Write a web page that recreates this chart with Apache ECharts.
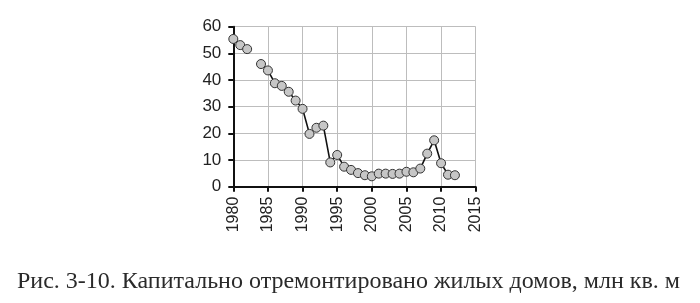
<!DOCTYPE html>
<html><head><meta charset="utf-8">
<script src="https://cdn.jsdelivr.net/npm/echarts@6/dist/echarts.min.js"></script>
<style>html,body{margin:0;padding:0;background:#fff;}#c{width:700px;height:303px;}</style>
</head><body><div id="c"></div>
<script>
const years = [1980,1981,1982,1983,1984,1985,1986,1987,1988,1989,1990,1991,1992,1993,1994,1995,1996,1997,1998,1999,2000,2001,2002,2003,2004,2005,2006,2007,2008,2009,2010,2011,2012];
const values = [55.4,53.1,51.6,null,46.0,43.6,38.8,37.8,35.6,32.3,29.2,19.8,22.1,22.9,9.1,11.9,7.5,6.3,5.1,4.3,3.9,4.9,4.9,4.8,4.9,5.6,5.4,6.8,12.4,17.4,8.8,4.5,4.3];
const xTicks = {min:1980, max:2015, step:5};
const yTicks = {min:0, max:60, step:10};
const caption = 'Рис. 3-10. Капитально отремонтировано жилых домов, млн кв. м';

const chart = echarts.init(document.getElementById('c'), null, {renderer:'canvas'});
chart.setOption({
  animation:false,
  backgroundColor:'#fff',
  grid:{left:233.3, right:224.3, top:26.7, bottom:116.3, containLabel:false},
  title:{text:caption, left:12, top:265,
    textStyle:{fontFamily:'Liberation Serif', fontWeight:'normal', fontSize:24, color:'#2a2a2a'}},
  xAxis:{type:'value', min:xTicks.min, max:xTicks.max, interval:xTicks.step,
    axisLine:{show:true, onZero:false, lineStyle:{color:'#111', width:2}},
    axisTick:{show:true, length:5, lineStyle:{color:'#111', width:2}},
    axisLabel:{rotate:90, margin:10, fontFamily:'Liberation Sans', fontSize:16, color:'#222', formatter:v=>String(v)},
    splitLine:{show:true, lineStyle:{color:'#bdbdbd', width:1}}},
  yAxis:{type:'value', min:yTicks.min, max:yTicks.max, interval:yTicks.step,
    axisLine:{show:true, onZero:false, lineStyle:{color:'#111', width:2}},
    axisTick:{show:true, length:5, lineStyle:{color:'#111', width:2}},
    axisLabel:{margin:12, fontFamily:'Liberation Sans', fontSize:17, color:'#222'},
    splitLine:{show:true, lineStyle:{color:'#bdbdbd', width:1}}},
  series:[{type:'line', data:years.map((y,i)=>[y, values[i]]), connectNulls:false,
    symbol:'circle', symbolSize:9,
    lineStyle:{color:'#111', width:1.6},
    itemStyle:{color:'#c6c6c6', borderColor:'#333', borderWidth:1}}]
});
</script></body></html>
